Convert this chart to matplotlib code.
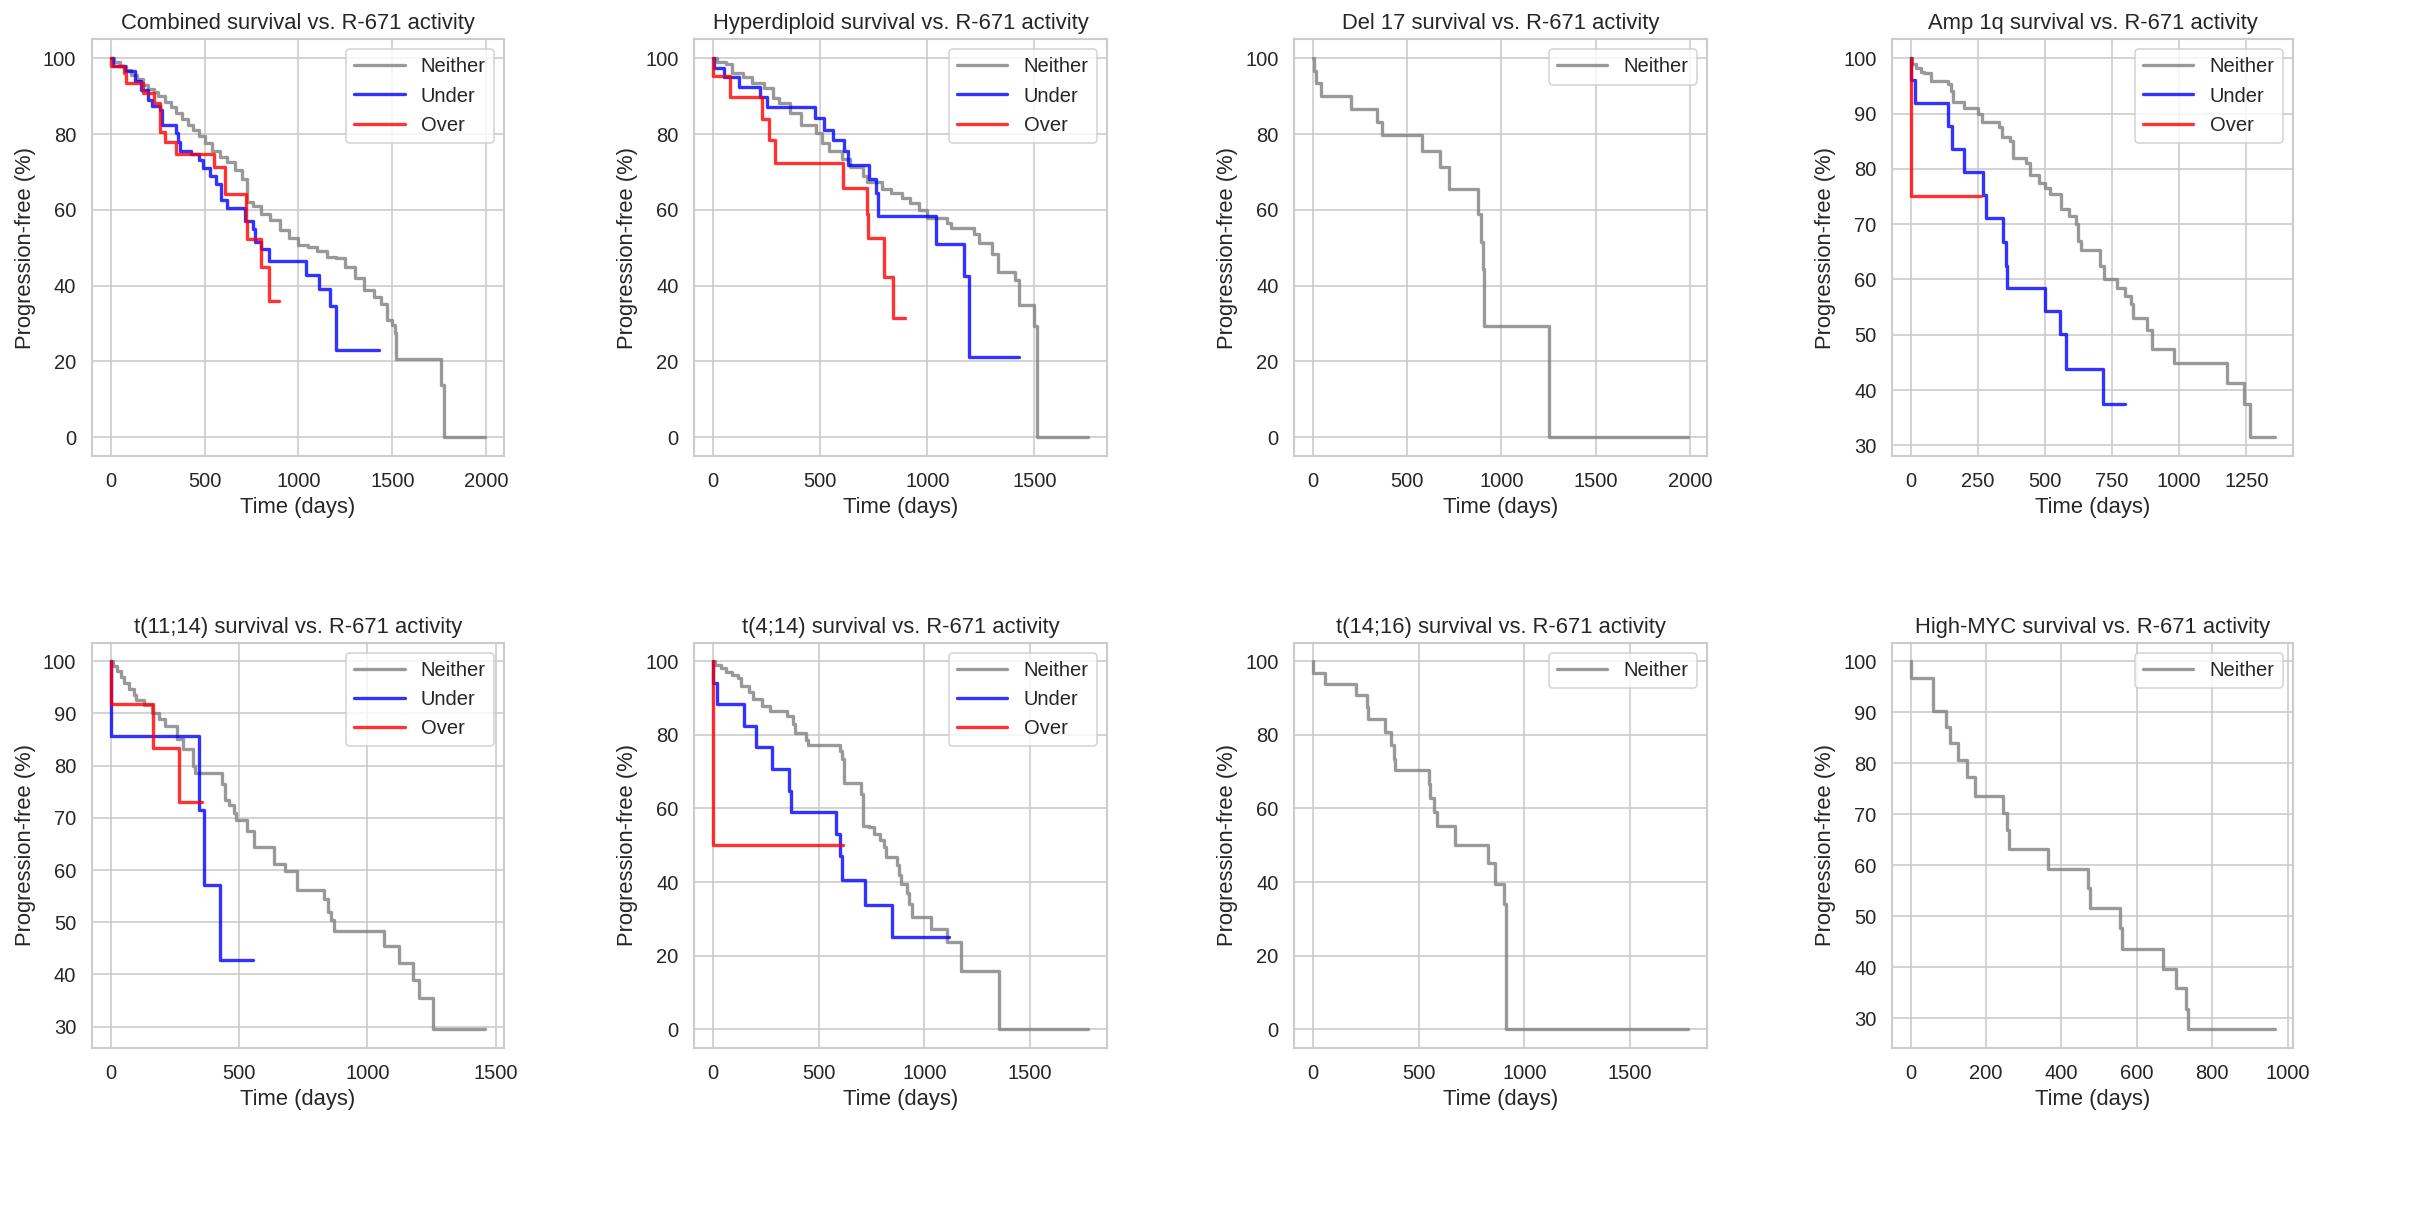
import numpy as np
import matplotlib.pyplot as plt
import seaborn as sns

# Kaplan-Meier style step data (days, % progression-free)
comb_neither_t = [0, 20, 50, 80, 110, 140, 170, 200, 230, 250, 290, 320, 350, 380, 410, 440, 470, 500, 540, 580,
                  620, 660, 700, 724, 760, 800, 850, 900, 950, 1000, 1050, 1100, 1150, 1200, 1250, 1300, 1350, 1400,
                  1440, 1470, 1500, 1512, 1520, 1758, 1776, 1995]
comb_neither_s = [100, 99, 98, 97, 95.5, 94.5, 93, 92, 91, 90, 88.5, 87, 85.5, 84, 82.5, 81, 79.5, 77.5, 75.5, 74,
                  72.5, 70.5, 68, 62, 61, 59, 57.3, 54.7, 52.5, 50.7, 50.3, 49, 47.6, 47.2, 45, 41.9, 38.8, 37,
                  35, 31, 29.6, 27.4, 20.7, 13.7, 0, 0]
comb_under_t = [0, 10, 75, 130, 160, 200, 220, 260, 275, 350, 360, 370, 430, 470, 490, 530, 560, 590, 620, 715,
                760, 770, 800, 845, 1040, 1110, 1170, 1200, 1430]
comb_under_s = [100, 98, 96.5, 94, 91.6, 89, 87.5, 86.3, 82.4, 80.2, 78, 75.6, 74.7, 73.2, 71, 69, 66.8, 62.6, 60.4,
                57.1, 55, 51.6, 49.6, 46.5, 42.8, 39, 34.6, 23, 23]
comb_over_t = [0, 2, 70, 80, 170, 230, 260, 265, 290, 350, 550, 610, 720, 727, 800, 845, 895]
comb_over_s = [100, 98, 96, 93.4, 90.8, 88.3, 84.5, 80.4, 78, 74.7, 71.4, 64.2, 57, 52.2, 44.8, 35.9, 35.9]

hyper_neither_t = [0, 20, 60, 90, 140, 180, 240, 280, 310, 360, 410, 480, 510, 540, 600, 640, 700, 720, 790, 830,
                   880, 920, 960, 1000, 1090, 1110, 1220, 1240, 1300, 1330, 1410, 1430, 1500, 1510, 1750]
hyper_neither_s = [100, 99, 98.5, 96, 95, 93.5, 92.2, 89.4, 88.1, 85.5, 82.4, 80.2, 77.5, 75.6, 73.5, 71.4, 69, 67.4,
                   65.5, 64.3, 63, 61.7, 60, 57.7, 56.5, 55.3, 53.5, 51.3, 48.2, 43.5, 41.5, 34.9, 29.3, 0, 0]
hyper_under_t = [0, 5, 50, 120, 220, 250, 475, 520, 560, 610, 630, 730, 760, 770, 1040, 1170, 1195, 1430]
hyper_under_s = [100, 97.5, 95, 92.3, 89.9, 87.1, 84.2, 81.1, 78.4, 75.4, 71.8, 68, 64.5, 58.4, 51, 42.5, 21.2, 21.2]
hyper_over_t = [0, 2, 80, 230, 260, 290, 605, 720, 725, 800, 840, 895]
hyper_over_s = [100, 95.2, 89.8, 84, 78.4, 72.4, 65.7, 59, 52.6, 42.3, 31.5, 31.5]

del17_neither_t = [0, 5, 15, 40, 200, 340, 365, 580, 675, 720, 875, 890, 900, 910, 1250, 1990]
del17_neither_s = [100, 96.7, 93.4, 90, 86.6, 83.3, 79.8, 75.6, 71.4, 65.4, 58.8, 51.6, 44.3, 29.4, 0, 0]

amp1q_neither_t = [0, 5, 20, 40, 50, 75, 140, 150, 160, 200, 250, 265, 330, 340, 370, 380, 430, 445, 480, 500,
                   520, 560, 590, 615, 625, 635, 705, 720, 770, 800, 820, 830, 880, 900, 980, 1180, 1240, 1265, 1355]
amp1q_neither_s = [100, 99, 98.3, 97.5, 97.3, 95.9, 95.3, 94, 92, 91, 90, 88.5, 87.5, 85.8, 85, 81.9, 81, 78.8,
                   77.5, 76.6, 75.5, 72.7, 71.5, 70, 67, 65.4, 62.5, 60, 58.5, 57, 55.5, 53, 50.8, 47.4, 44.9,
                   41.3, 37.5, 31.5, 31.5]
amp1q_under_t = [0, 2, 15, 140, 155, 200, 270, 280, 345, 355, 360, 500, 555, 580, 715, 800]
amp1q_under_s = [100, 96, 91.9, 87.7, 83.6, 79.4, 75.2, 71.1, 66.7, 62.5, 58.5, 54.3, 50.2, 43.8, 37.5, 37.5]
amp1q_over_t = [0, 2, 262]
amp1q_over_s = [100, 75, 75]

t1114_neither_t = [0, 10, 25, 40, 50, 70, 90, 100, 130, 160, 190, 210, 260, 280, 320, 330, 435, 445, 460, 480,
                   490, 530, 560, 635, 680, 725, 830, 845, 860, 870, 1065, 1125, 1180, 1200, 1255, 1460]
t1114_neither_s = [100, 99, 98.2, 97, 95.8, 94.7, 93.5, 92.6, 91.5, 90.1, 88.9, 87.5, 85, 83.1, 80, 78.5, 76.5,
                   73.5, 72.5, 70.9, 69.5, 67.4, 64.4, 61.1, 59.8, 56.1, 54.5, 52, 50.5, 48.3, 45.5, 42.2, 39,
                   35.5, 29.5, 29.5]
t1114_under_t = [0, 2, 345, 365, 425, 555]
t1114_under_s = [100, 85.7, 71.4, 57.1, 42.8, 42.8]
t1114_over_t = [0, 2, 165, 265, 355]
t1114_over_s = [100, 91.7, 83.3, 73, 73]

t414_neither_t = [0, 10, 40, 60, 90, 120, 130, 170, 190, 230, 270, 350, 380, 390, 440, 450, 600, 610, 620, 700,
                  710, 740, 760, 790, 810, 820, 870, 880, 890, 920, 930, 940, 1030, 1110, 1175, 1355, 1775]
t414_neither_s = [100, 99, 98, 97, 96.1, 95.5, 93.2, 91.5, 89.6, 87.8, 86.4, 85, 83, 80.5, 78.5, 77.1, 75.5, 73.5,
                  66.9, 64, 55.3, 55, 53, 51.5, 49.5, 46.7, 44.5, 42, 39.4, 37, 34, 30.4, 27.2, 23.6, 15.9, 0, 0]
t414_under_t = [0, 2, 20, 145, 205, 280, 360, 370, 580, 600, 610, 720, 845, 1115]
t414_under_s = [100, 94.1, 88.4, 82.5, 76.7, 70.8, 64.8, 59, 53.1, 47.1, 40.6, 33.8, 25.2, 25.2]
t414_over_t = [0, 2, 615]
t414_over_s = [100, 50, 50]

t1416_neither_t = [0, 2, 55, 205, 255, 260, 340, 370, 385, 390, 550, 555, 575, 585, 670, 830, 860, 905, 915, 1775]
t1416_neither_s = [100, 96.8, 93.8, 90.7, 87.5, 84.3, 80.8, 77.3, 73.5, 70.3, 66.5, 62.8, 59, 55.1, 50.1, 45.2,
                   39.4, 34, 0, 0]

myc_neither_t = [0, 2, 60, 95, 105, 125, 150, 170, 245, 255, 260, 365, 470, 475, 555, 560, 670, 705, 730, 735, 965]
myc_neither_s = [100, 96.7, 90.3, 87.1, 84, 80.7, 77.2, 73.6, 70.2, 66.8, 63.1, 59.3, 55.5, 51.6, 47.7, 43.6,
                 39.6, 35.9, 31.8, 27.8, 27.8]

panels = [
    ('Combined', [('Neither', comb_neither_t, comb_neither_s), ('Under', comb_under_t, comb_under_s),
                  ('Over', comb_over_t, comb_over_s)]),
    ('Hyperdiploid', [('Neither', hyper_neither_t, hyper_neither_s), ('Under', hyper_under_t, hyper_under_s),
                      ('Over', hyper_over_t, hyper_over_s)]),
    ('Del 17', [('Neither', del17_neither_t, del17_neither_s)]),
    ('Amp 1q', [('Neither', amp1q_neither_t, amp1q_neither_s), ('Under', amp1q_under_t, amp1q_under_s),
                ('Over', amp1q_over_t, amp1q_over_s)]),
    ('t(11;14)', [('Neither', t1114_neither_t, t1114_neither_s), ('Under', t1114_under_t, t1114_under_s),
                  ('Over', t1114_over_t, t1114_over_s)]),
    ('t(4;14)', [('Neither', t414_neither_t, t414_neither_s), ('Under', t414_under_t, t414_under_s),
                 ('Over', t414_over_t, t414_over_s)]),
    ('t(14;16)', [('Neither', t1416_neither_t, t1416_neither_s)]),
    ('High-MYC', [('Neither', myc_neither_t, myc_neither_s)]),
]
colors = {'Neither': 'gray', 'Under': 'blue', 'Over': 'red'}

sns.set_theme(style='whitegrid', font_scale=1.1)
plt.rcParams['font.family'] = ['Liberation Sans', 'DejaVu Sans']

W, H = 2418, 1218
fig, axes = plt.subplots(2, 4, figsize=(W / 120, H / 120), dpi=120)

# axes boxes in pixels (left, right, top, bottom)
col_px = [(92.0, 504.0), (694.3, 1106.7), (1294.3, 1706.7), (1892.3, 2292.7)]
row_px = [(39.3, 456.0), (642.7, 1047.7)]

for i, (ax, (name, series)) in enumerate(zip(axes.flat, panels)):
    l, r = col_px[i % 4]
    t_, b = row_px[i // 4]
    ax.set_position([l / W, (H - b) / H, (r - l) / W, (b - t_) / H])
    for label, t, s in series:
        ax.step(t, s, where='post', color=colors[label], alpha=0.8, lw=2, label=label)
    ax.set_title(f'{name} survival vs. R-671 activity')
    ax.set_xlabel('Time (days)')
    ax.set_ylabel('Progression-free (%)')
    ax.legend(loc='upper right', handlelength=2.5)

plt.savefig('out.png')
